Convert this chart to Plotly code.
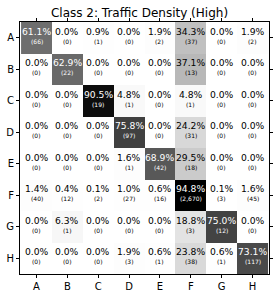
import plotly.graph_objects as go

labels = ["A", "B", "C", "D", "E", "F", "G", "H"]
percents = [
    [61.1, 0.0, 0.9, 0.0, 1.9, 34.3, 0.0, 1.9],
    [0.0, 62.9, 0.0, 0.0, 0.0, 37.1, 0.0, 0.0],
    [0.0, 0.0, 90.5, 4.8, 0.0, 4.8, 0.0, 0.0],
    [0.0, 0.0, 0.0, 75.8, 0.0, 24.2, 0.0, 0.0],
    [0.0, 0.0, 0.0, 1.6, 68.9, 29.5, 0.0, 0.0],
    [1.4, 0.4, 0.1, 1.0, 0.6, 94.8, 0.1, 1.6],
    [0.0, 6.3, 0.0, 0.0, 0.0, 18.8, 75.0, 0.0],
    [0.0, 0.0, 0.0, 1.9, 0.6, 23.8, 0.6, 73.1],
]
counts = [
    [66, 0, 1, 0, 2, 37, 0, 2],
    [0, 22, 0, 0, 0, 13, 0, 0],
    [0, 0, 19, 1, 0, 1, 0, 0],
    [0, 0, 0, 97, 0, 31, 0, 0],
    [0, 0, 0, 1, 42, 18, 0, 0],
    [40, 12, 2, 27, 16, 2670, 3, 45],
    [0, 1, 0, 0, 0, 3, 12, 0],
    [0, 0, 0, 3, 1, 38, 1, 117],
]
title = "Class 2: Traffic Density (High)"

greys = [[0, "#ffffff"], [0.125, "#f0f0f0"], [0.25, "#d9d9d9"], [0.375, "#bdbdbd"],
         [0.5, "#969696"], [0.625, "#737373"], [0.75, "#525252"], [0.875, "#252525"],
         [1, "#000000"]]

zmax = max(max(r) for r in percents)

fig = go.Figure(go.Heatmap(
    z=percents, x=labels, y=labels, colorscale=greys, zmin=0, zmax=zmax,
    showscale=False, hoverinfo="skip",
))

font = "DejaVu Sans, sans-serif"
anns = []
for i, row in enumerate(labels):
    for j, col in enumerate(labels):
        p = percents[i][j]
        c = counts[i][j]
        color = "#ffffff" if p > 50 else "#000000"
        anns.append(dict(x=col, y=row, text=f"{p:.1f}%", showarrow=False,
                         yshift=6.5, font=dict(family=font, size=9.2, color=color)))
        anns.append(dict(x=col, y=row, text=f"({c:,})", showarrow=False,
                         yshift=-3.5, font=dict(family=font, size=6, color=color)))

fig.update_layout(
    width=279, height=298,
    margin=dict(l=15, r=6, t=22, b=17),
    paper_bgcolor="white", plot_bgcolor="white",
    title=dict(text=title, x=0.5, xanchor="center", y=1 - 13 / 298, yanchor="middle",
               font=dict(family=font, size=12, color="black")),
    annotations=anns,
    font=dict(family=font, color="black"),
)
fig.update_xaxes(showline=True, linecolor="black", linewidth=1, mirror="ticks",
                 ticks="outside", ticklen=3, tickcolor="black",
                 tickfont=dict(family=font, size=10, color="black"), showgrid=False,
                 zeroline=False)
fig.update_yaxes(autorange="reversed", showline=True, linecolor="black", linewidth=1,
                 mirror="ticks", ticks="outside", ticklen=3, tickcolor="black",
                 tickfont=dict(family=font, size=10, color="black"), showgrid=False,
                 zeroline=False)

fig.write_html("out.html", config={"displayModeBar": False},
               post_script="document.body.style.margin='0';document.body.style.overflow='hidden';")
